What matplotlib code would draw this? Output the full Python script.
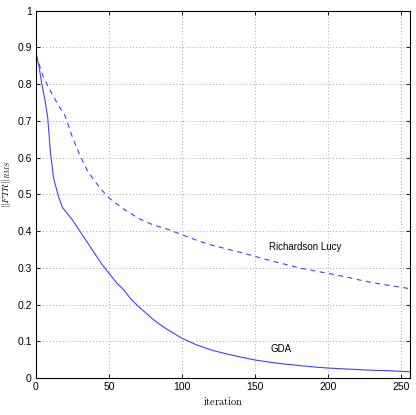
import matplotlib
matplotlib.use("Agg")
import matplotlib.pyplot as plt
from matplotlib.ticker import FixedLocator, FixedFormatter

plt.rcParams['mathtext.fontset'] = 'cm'
plt.rcParams['font.family'] = ['Liberation Sans', 'DejaVu Sans']

gda_x = [0, 2, 4, 6, 8, 10, 12, 15, 18, 20, 25, 30, 35, 40, 45, 50, 55, 60, 65, 70,
         75, 80, 85, 90, 95, 100, 110, 120, 130, 140, 150, 160, 170, 180, 190, 200,
         210, 220, 230, 240, 250, 256]
gda_y = [0.885, 0.85, 0.80, 0.76, 0.71, 0.61, 0.545, 0.50, 0.465, 0.455, 0.43, 0.40,
         0.37, 0.34, 0.31, 0.285, 0.26, 0.24, 0.215, 0.195, 0.178, 0.16, 0.145, 0.132,
         0.12, 0.108, 0.09, 0.076, 0.066, 0.057, 0.049, 0.043, 0.038, 0.034, 0.030,
         0.027, 0.025, 0.023, 0.021, 0.020, 0.018, 0.017]

rl_x = [0, 5, 10, 15, 20, 25, 30, 35, 40, 45, 50, 60, 70, 80, 90, 100, 110, 120, 130,
        140, 150, 160, 170, 180, 190, 200, 210, 220, 230, 240, 250, 256]
rl_y = [0.88, 0.82, 0.78, 0.745, 0.713, 0.655, 0.607, 0.566, 0.537, 0.512, 0.49, 0.46,
        0.435, 0.417, 0.405, 0.39, 0.375, 0.362, 0.352, 0.342, 0.331, 0.32, 0.31, 0.30,
        0.292, 0.285, 0.277, 0.268, 0.26, 0.253, 0.247, 0.243]

x_ticks = [0, 50, 100, 150, 200, 250]
x_tick_labels = ["0", "50", "100", "150", "200", "250"]
y_ticks = [0, 0.1, 0.2, 0.3, 0.4, 0.5, 0.6, 0.7, 0.8, 0.9, 1.0]
y_tick_labels = ["0", "0.1", "0.2", "0.3", "0.4", "0.5", "0.6", "0.7", "0.8", "0.9", "1"]

fig = plt.figure(figsize=(4.16, 4.15), dpi=100)
ax = fig.add_axes([0.0865, 0.0892, 0.899, 0.885])

ax.plot(gda_x, gda_y, color='#4040ff', lw=0.8, linestyle='-')
ax.plot(rl_x, rl_y, color='#4040ff', lw=0.8, linestyle=(0, (4.5, 4)))

ax.set_xlim(0, 256)
ax.set_ylim(0, 1)
ax.xaxis.set_major_locator(FixedLocator(x_ticks))
ax.xaxis.set_major_formatter(FixedFormatter(x_tick_labels))
ax.yaxis.set_major_locator(FixedLocator(y_ticks))
ax.yaxis.set_major_formatter(FixedFormatter(y_tick_labels))

ax.tick_params(direction='in', top=True, right=True, length=3, width=0.6,
               labelsize=7.5, pad=3)
ax.grid(True, linestyle=(0, (1, 3)), color='#888888', lw=0.6)
for s in ax.spines.values():
    s.set_linewidth(0.8)

ax.text(184, 0.357, "Richardson Lucy", fontsize=7, ha='center', va='center')
ax.text(168, 0.079, "GDA", fontsize=7, ha='center', va='center')

ax.text(0.5, -0.062, r'$\mathrm{iteration}$', fontsize=7.5, ha='center', va='center',
        transform=ax.transAxes)
ax.text(-0.078, 0.528, r'$\|FTR\|_{RMS}$', fontsize=7, ha='center', va='center',
        rotation=90, transform=ax.transAxes)

fig.savefig("out.png", dpi=100)
